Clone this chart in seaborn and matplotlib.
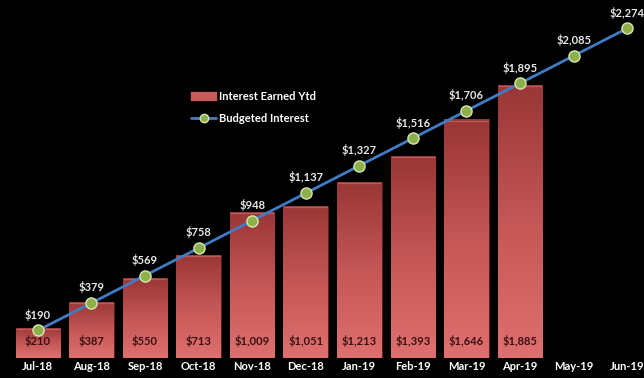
import numpy as np
import pandas as pd
import matplotlib
matplotlib.use("Agg")
import matplotlib.pyplot as plt
import seaborn as sns
from matplotlib.colors import LinearSegmentedColormap
from matplotlib.patches import Patch
from matplotlib.lines import Line2D

months = ["Jul-18", "Aug-18", "Sep-18", "Oct-18", "Nov-18", "Dec-18",
          "Jan-19", "Feb-19", "Mar-19", "Apr-19", "May-19", "Jun-19"]
earned = [210, 387, 550, 713, 1009, 1051, 1213, 1393, 1646, 1885, np.nan, np.nan]
budget = [190, 379, 569, 758, 948, 1137, 1327, 1516, 1706, 1895, 2085, 2274]

df = pd.DataFrame({"month": months, "earned": earned, "budget": budget})

sns.set_theme(style="dark")
plt.rcParams["font.family"] = ["Lato", "DejaVu Sans"]

fig = plt.figure(figsize=(6.44, 3.78), dpi=100, facecolor="black")
ax = fig.add_axes([11 / 644, 20 / 378, 643 / 644, 358 / 378])
ax.set_facecolor("black")

sns.barplot(data=df, x="month", y="earned", color="#b84a4a", width=0.83,
            ax=ax, saturation=1, edgecolor="#5a1a1a", linewidth=0.6, zorder=2)

cmap = LinearSegmentedColormap.from_list("bar", ["#e07070", "#c45656", "#9a3636"])
grad = np.linspace(0, 1, 256).reshape(-1, 1)
for p in ax.patches:
    h = p.get_height()
    if not np.isfinite(h) or h <= 0:
        continue
    x0 = p.get_x()
    w = p.get_width()
    im = ax.imshow(grad, cmap=cmap, aspect="auto", origin="lower",
                   extent=[x0, x0 + w, 0, h], zorder=2.5)
    im.set_clip_path(p)
    ax.plot([x0 + 0.02, x0 + w - 0.02], [h - 8, h - 8], color="#d27070",
            lw=1.0, alpha=0.6, zorder=2.6)

xs = np.arange(len(months))
sns.lineplot(x=xs, y=budget, ax=ax, color="#3f7cc4", linewidth=2, zorder=4,
             marker="o", markersize=8, markerfacecolor="#8db04a",
             markeredgecolor="#d6e8b0", markeredgewidth=1.0)

for i, v in enumerate(earned):
    if np.isfinite(v):
        ax.annotate(f"${v:,.0f}", (i, 0), xytext=(0, 8), textcoords="offset points",
                    ha="center", va="bottom", color="#3a1010", fontsize=8,
                    fontweight="bold", zorder=5)
for i, v in enumerate(budget):
    ax.annotate(f"${v:,.0f}", (i, v), xytext=(0, 7), textcoords="offset points",
                ha="center", va="bottom", color="#e8e8e8", fontsize=8,
                fontweight="bold", zorder=5)

ax.set_xlim(-0.5, len(months) - 0.5)
ax.set_ylim(0, 2470)
ax.set_xlabel("")
ax.set_ylabel("")
ax.set_yticks([])
ax.tick_params(axis="x", colors="white", labelsize=8, pad=2, length=0)
for lab in ax.get_xticklabels():
    lab.set_fontweight("bold")
for s in ax.spines.values():
    s.set_visible(False)
ax.grid(False)

handles = [Patch(facecolor="#c85a5a", edgecolor="#c85a5a"),
           Line2D([0], [0], color="#3f7cc4", lw=2, marker="o", markersize=6,
                  markerfacecolor="#8db04a", markeredgecolor="#d6e8b0")]
leg = ax.legend(handles, ["Interest Earned Ytd", "Budgeted Interest"],
                loc="upper left", bbox_to_anchor=(0.265, 0.775), frameon=False,
                fontsize=8, labelspacing=1.05, handlelength=2.2, handletextpad=0.3)
for t in leg.get_texts():
    t.set_color("white")
    t.set_fontweight("bold")

fig.savefig("out.png", dpi=100, facecolor="black")
